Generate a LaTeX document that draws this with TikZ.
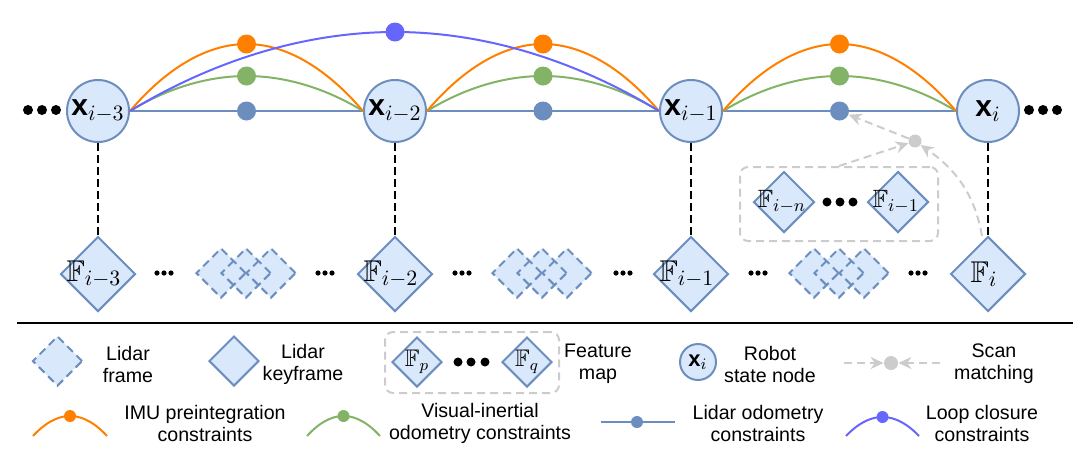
\documentclass[tikz,border=0pt]{standalone}
\usepackage{fontspec}
\setmainfont{Liberation Sans}
\usepackage{amssymb}
\usetikzlibrary{shapes.geometric,arrows.meta}

\pgfdeclarelayer{background}
\pgfsetlayers{background,main}
\def\unit{0.5pt}
\definecolor{node area}{HTML}{DAE8FC}
\definecolor{node edge}{HTML}{6C8EBF}
\definecolor{imu}{HTML}{FF8000}
\definecolor{vio}{HTML}{82B366}
\definecolor{loop}{HTML}{6666FF}
\definecolor{scan gray}{HTML}{CCCCCC}
\tikzset{
  legend/.style={align=center, inner sep=0pt, font=\fontsize{9.8}{11}\selectfont},
  rule/.style={draw, line width=1.2pt}
  }
\tikzstyle{state}=[circle,draw=node edge,fill=node area,line width=1pt,minimum size=31pt,inner sep=0pt,font=\fontsize{15}{17}\selectfont]
\tikzstyle{keyframe}=[diamond,aspect=1,draw=node edge,fill=node area,line width=1pt,minimum size=37.5pt,inner sep=0pt,font=\fontsize{15}{17}\selectfont]
\tikzstyle{frame}=[diamond,aspect=1,draw=node edge,line width=1pt,dash pattern=on 4pt off 2.5pt,minimum size=25pt,inner sep=0pt]
\tikzstyle{frame area}=[diamond,aspect=1,fill=node area,minimum size=25pt,inner sep=0pt]
\tikzstyle{blob}=[circle,inner sep=0pt,minimum size=9.5pt]
\tikzstyle{big dot}=[circle,fill=black,inner sep=0pt,minimum size=5pt]
\tikzstyle{small dot}=[circle,fill=black,inner sep=0pt,minimum size=2.6pt]
\tikzstyle{lo edge} = [draw=node edge, line width=1pt]
\tikzstyle{vio edge} = [draw=vio, line width=1pt]
\tikzstyle{imu edge} = [draw=imu, line width=1pt]
\tikzstyle{loop edge} = [draw=loop, line width=1pt]
\tikzstyle{vertical} = [draw, line width=1.3pt, dash pattern=on 4pt off 2pt]
\tikzstyle{scan edge} = [draw=scan gray, line width=1pt, dash pattern=on 4pt off 2.5pt, -{Stealth[length=6.5pt,width=6pt]}]
\tikzstyle{map box} = [draw=scan gray, line width=1pt, dash pattern=on 4pt off 2.5pt, rounded corners=4pt, minimum width=99pt, minimum height=37pt]

\begin{document}
\begin{tikzpicture}[x=\unit, y=-\unit]
    \useasboundingbox (0,0) rectangle (1087,468);

    % states and keyframes
    \foreach \x/\name/\sub in {98/x3/i-3, 395/x2/i-2, 691/x1/i-1, 988/x0/i} {
      \node[state] (\name) at (\x,111) {\textbf{x}$_{\sub}$};
      \node[keyframe] (F\name) at (\x,274) {\makebox[0pt]{$\mathbb{F}_{\sub}$\hspace{4pt}}};
      \path[vertical] (\name) -- (F\name);
    }

    \foreach \source/\sink/\m in {x3/x2/246.5, x2/x1/543, x1/x0/839.5} {
      \path[lo edge] (\source) -- (\sink);
      \path[vio edge] (\source.east) parabola bend (\m,76) (\sink.west);
      \path[imu edge] (\source.east) parabola bend (\m,44) (\sink.west);
    }
    \path[loop edge] (x3.east) parabola bend (395,32) (x1.west);
    \foreach \source/\m in {x3/246.5, x2/543, x1/839.5} {
      \node[blob, fill=node edge] (lo\source) at (\m,111) {};
      \node[blob, fill=vio] (vio\source) at (\m,76) {};
      \node[blob, fill=imu] (imu\source) at (\m,44) {};
    }
    \node[blob, fill=loop] (lc) at (395,32) {};

    \foreach \x [count=\k] in {28,42,56}
      \node[big dot] (l\k) at (\x,110) {};
    \foreach \x [count=\k] in {1029,1043,1057}
      \node[big dot] (r\k) at (\x,110) {};

    % lidar frames
    \begin{pgfonlayer}{background}
      \foreach \c in {221,246,271,517,542,567,814,839,864}
        \node[frame area] (a\c) at (\c,273) {};
    \end{pgfonlayer}
    \foreach \c in {221,246,271,517,542,567,814,839,864}
      \node[frame] (f\c) at (\c,273) {};
    \foreach \c in {164,325,462,623,758,918}
      \foreach \d [count=\k] in {-7,0,7}
        \node[small dot] (e\c\k) at (\c+\d,273) {};

    % feature map and scan matching
    \node[map box] (fmap) at (839,204) {};
    \node[keyframe, minimum size=30.5pt, font=\fontsize{12.5}{14}\selectfont] (Fn) at (784,202) {\makebox[0pt]{$\mathbb{F}_{i-n}$\hspace{2pt}}};
    \node[keyframe, minimum size=30.5pt, font=\fontsize{12.5}{14}\selectfont] (Fm) at (898,202) {\makebox[0pt]{$\mathbb{F}_{i-1}$\hspace{2pt}}};
    \foreach \x [count=\k] in {827,840,853}
      \node[big dot, minimum size=4.5pt] (m\k) at (\x,202) {};
    \node[blob, fill=scan gray, minimum size=6.5pt] (sdot) at (915,141) {};
    \coordinate (scan start) at (982,236);
    \path[scan edge] (fmap.north) -- (sdot);
    \path[scan edge] (sdot) -- (lox1);
    \path[scan edge] (scan start) to[out=100,in=-35] (sdot);

    % legend
    \coordinate (rule left) at (17,323);
    \coordinate (rule right) at (1073,323);
    \path[rule] (rule left) -- (rule right);

    \node[frame, fill=node area] (lf) at (57.5,361) {};
    \node[legend] (lf text) at (128,364) {Lidar\\frame};
    \node[keyframe, minimum size=25pt] (lk) at (234,361) {};
    \node[legend] (lk text) at (303,364) {Lidar\\keyframe};
    \node[map box, minimum width=87pt, minimum height=30.5pt] (lm) at (472,362.5) {};
    \node[keyframe, minimum size=25pt, font=\fontsize{12}{14}\selectfont] (lp) at (417,362) {\makebox[0pt]{$\mathbb{F}_p$}};
    \node[keyframe, minimum size=25pt, font=\fontsize{12}{14}\selectfont] (lq) at (527,362) {\makebox[0pt]{$\mathbb{F}_q$}};
    \foreach \x [count=\k] in {458,471,485}
      \node[big dot, minimum size=4.5pt] (lm\k) at (\x,362) {};
    \node[legend] (lm text) at (598,364) {Feature\\map};
    \node[state, minimum size=18pt, font=\fontsize{11}{13}\selectfont] (lx) at (698,362) {\textbf{x}$_i$};
    \node[legend] (lx text) at (770,364) {Robot\\state node};
    \node[blob, fill=scan gray, minimum size=7pt] (ls) at (891,363) {};
    \coordinate (ls left) at (844,363);
    \coordinate (ls right) at (940,363);
    \path[scan edge] (ls left) -- (ls);
    \path[scan edge] (ls right) -- (ls);
    \node[legend] (ls text) at (994,364) {Scan\\matching};

    \coordinate (li a) at (33,436);
    \coordinate (li b) at (107,436);
    \path[imu edge] (li a) parabola bend (70,416) (li b);
    \node[blob, fill=imu, minimum size=6pt] (li) at (70,416) {};
    \node[legend] (li text) at (205,423) {IMU preintegration\\constraints};
    \coordinate (lv a) at (307,436);
    \coordinate (lv b) at (380,436);
    \path[vio edge] (lv a) parabola bend (343.5,416) (lv b);
    \node[blob, fill=vio, minimum size=6pt] (lv) at (343.5,416) {};
    \node[legend] (lv text) at (480,423) {Visual-inertial\\odometry constraints};
    \coordinate (lo a) at (601,422);
    \coordinate (lo b) at (675,422);
    \path[lo edge] (lo a) -- (lo b);
    \node[blob, fill=node edge, minimum size=6pt] (lo) at (637,422) {};
    \node[legend] (lo text) at (758,423) {Lidar odometry\\constraints};
    \coordinate (ll a) at (846,436);
    \coordinate (ll b) at (919,436);
    \path[loop edge] (ll a) parabola bend (882.5,417) (ll b);
    \node[blob, fill=loop, minimum size=6pt] (ll) at (882.5,417) {};
    \node[legend] (ll text) at (982,423) {Loop closure\\constraints};

\end{tikzpicture}
\end{document}
